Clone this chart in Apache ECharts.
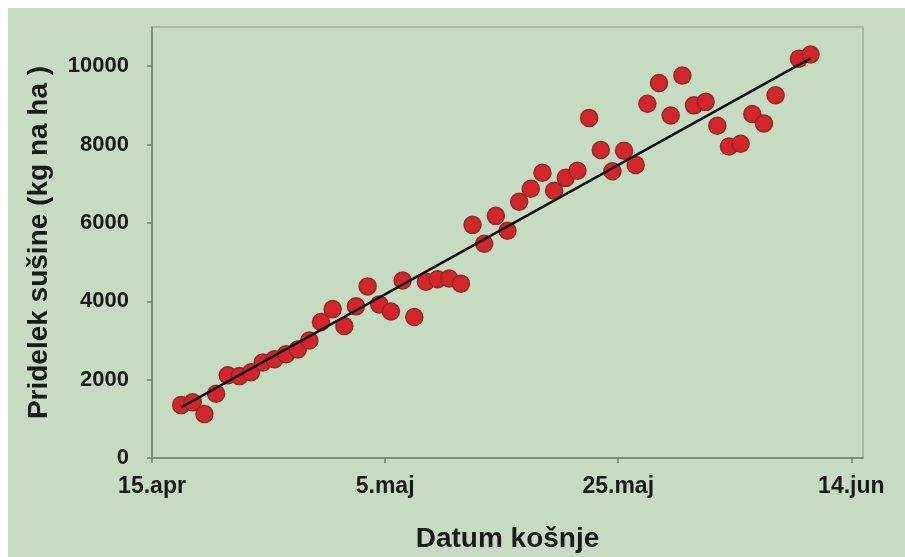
<!DOCTYPE html>
<html>
<head>
<meta charset="utf-8">
<script src="https://cdn.jsdelivr.net/npm/echarts@6/dist/echarts.min.js"></script>
<style>
html,body{margin:0;padding:0;background:#ffffff;}
#chart{position:absolute;left:8px;top:8px;width:897px;height:549px;background:#c6dcc0;}
</style>
</head>
<body>
<div id="chart"></div>
<script>
// Days after 15. April (x) and dry-matter yield in kg/ha (y)
const dayOffsets = [2.5,3.5,4.5,5.5,6.5,7.5,8.5,9.5,10.5,11.5,12.5,13.5,14.5,15.5,16.5,17.5,18.5,19.5,20.5,21.5,22.5,23.5,24.5,25.5,26.5,27.5,28.5,29.5,30.5,31.5,32.5,33.5,34.5,35.5,36.5,37.5,38.5,39.5,40.5,41.5,42.5,43.5,44.5,45.5,46.5,47.5,48.5,49.5,50.5,51.5,52.5,53.5,55.5,56.5];
const yields = [1350,1420,1120,1640,2110,2090,2190,2440,2520,2650,2770,3000,3470,3800,3370,3870,4380,3920,3740,4530,3600,4500,4560,4580,4450,5950,5470,6180,5800,6540,6870,7280,6820,7150,7330,8680,7860,7320,7840,7480,9040,9570,8740,9760,9000,9090,8480,7950,8020,8780,8540,9260,10190,10300];
// Trend line end points
const trendDays = [2.5, 56.5];
const trendYields = [1290, 10200];
// Axis tick labels
const xTickDays = [0, 20, 40, 60];
const xTickLabels = ['15.apr', '5.maj', '25.maj', '14.jun'];
const yTicks = [0, 2000, 4000, 6000, 8000, 10000];

const points = dayOffsets.map((d, i) => [d, yields[i]]);
const trend = trendDays.map((d, i) => [d, trendYields[i]]);

const chart = echarts.init(document.getElementById('chart'));
const font = 'Liberation Sans, Arial, sans-serif';
chart.setOption({
  animation: false,
  backgroundColor: '#c6dcc0',
  grid: {left: 144, top: 19, right: 42, bottom: 99, outerBoundsMode: 'none', containLabel: false,
         show: true, borderColor: '#9fb19a', borderWidth: 1.5, backgroundColor: 'transparent'},
  xAxis: {
    type: 'value', min: 0, max: 61, interval: 20,
    splitLine: {show: false},
    axisLine: {show: true, onZero: false, lineStyle: {color: '#6f816b', width: 1.5}},
    axisTick: {show: true, length: 5, customValues: xTickDays, lineStyle: {color: '#6f816b', width: 1.5}},
    axisLabel: {customValues: xTickDays, margin: 17, color: '#1a1a1a', fontFamily: font, fontWeight: 'bold', fontSize: 23,
      formatter: v => { const k = xTickDays.indexOf(v); return k >= 0 ? xTickLabels[k] : ''; }},
    name: 'Datum košnje', nameLocation: 'middle', nameGap: 67,
    nameTextStyle: {color: '#1a1a1a', fontFamily: font, fontWeight: 'bold', fontSize: 28}
  },
  yAxis: {
    type: 'value', min: 0, max: 11000, interval: 2000,
    splitLine: {show: false},
    axisLine: {show: true, lineStyle: {color: '#6f816b', width: 1.5}},
    axisTick: {show: true, length: 5, customValues: yTicks, lineStyle: {color: '#6f816b', width: 1.5}},
    axisLabel: {customValues: yTicks, margin: 23, color: '#1a1a1a', fontFamily: font, fontWeight: 'bold', fontSize: 22,
      formatter: v => String(v)},
    name: 'Pridelek sušine (kg na ha )', nameLocation: 'middle', nameGap: 99,
    nameTextStyle: {color: '#1a1a1a', fontFamily: font, fontWeight: 'bold', fontSize: 28}
  },
  series: [
    {type: 'scatter', data: points, symbolSize: 17, z: 2,
     itemStyle: {color: '#d4252d', borderColor: '#8f2a22', borderWidth: 1.5, opacity: 1}},
    {type: 'line', data: trend, symbol: 'none', z: 3,
     lineStyle: {color: '#111111', width: 2.5}}
  ]
});
</script>
</body>
</html>
